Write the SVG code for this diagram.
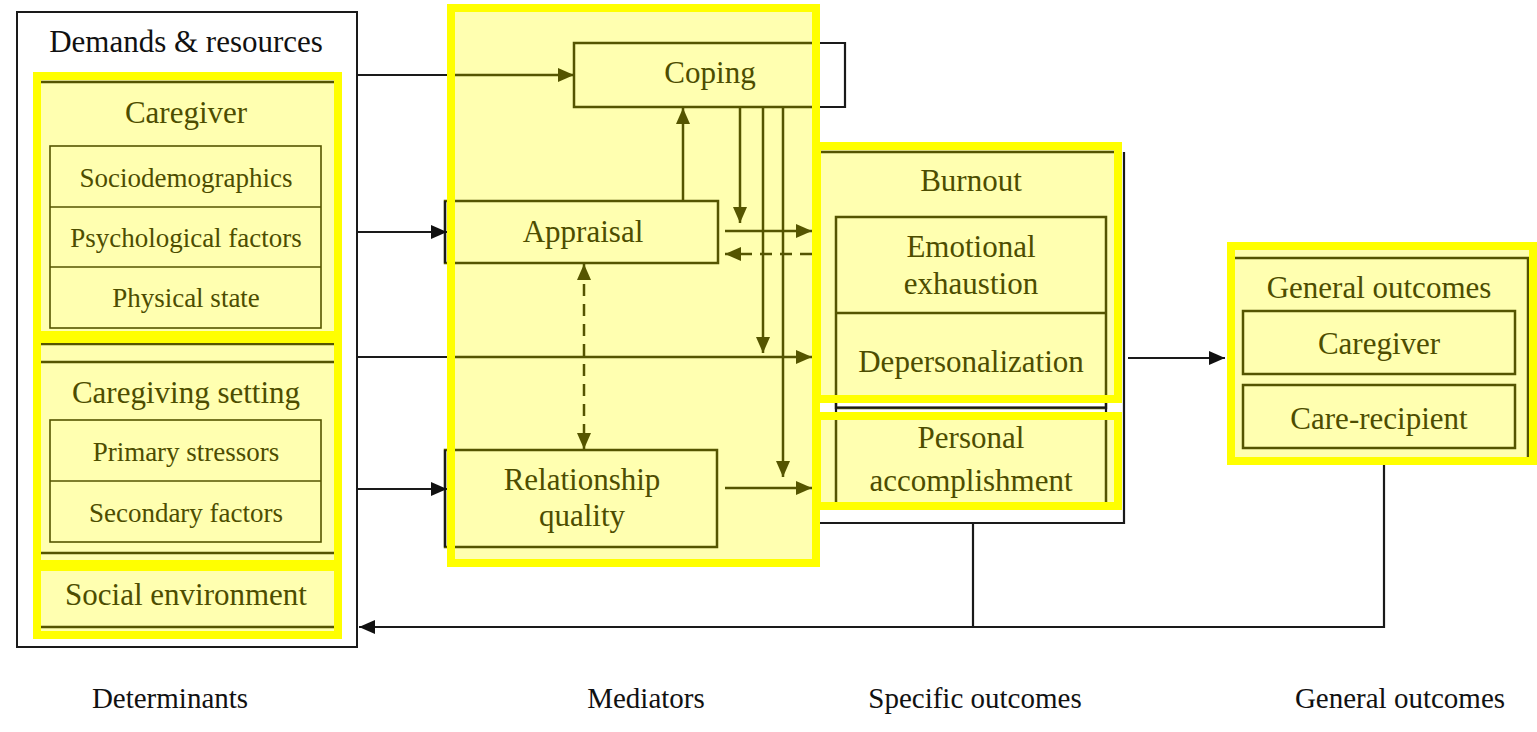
<svg xmlns="http://www.w3.org/2000/svg" width="1537" height="732" viewBox="0 0 1537 732">
<style>
text{font-family:"Liberation Serif","Times New Roman",serif;text-anchor:middle;fill:#4d4d00}
.t{font-size:31px}
.s{font-size:27px}
.blk{fill:#111}
.lab{font-size:29px}
.ol{stroke:#555500;fill:none;stroke-width:2.5}
.olt{stroke:#555500;fill:none;stroke-width:1.6}
.bk{stroke:#1a1a1a;fill:none;stroke-width:2.2}
.hl{fill:#ffffb0;stroke:none}
.hb{fill:none;stroke:#ffff00;stroke-width:8}
.dash{stroke-dasharray:12 8}
</style>
<defs>
<marker id="ao" markerUnits="userSpaceOnUse" markerWidth="18" markerHeight="16" refX="16" refY="7" orient="auto-start-reverse"><path d="M0,0 L16,7 L0,14 Z" fill="#555500"/></marker>
<marker id="ab" markerUnits="userSpaceOnUse" markerWidth="18" markerHeight="16" refX="16" refY="7" orient="auto"><path d="M0,0 L16,7 L0,14 Z" fill="#111"/></marker>
</defs>
<rect width="1537" height="732" fill="#fff"/>

<g id="determinants">
<rect x="17" y="12" width="340" height="635" fill="#fff" stroke="#1a1a1a" stroke-width="2"/>
<text class="t blk" x="186" y="52">Demands &amp; resources</text>
</g>

<g id="highlight-fills">
<rect class="hl" x="37" y="76" width="301" height="259"/>
<rect class="hl" x="37" y="339" width="301" height="225"/>
<rect class="hl" x="37" y="567" width="301" height="68"/>
<rect class="hl" x="451" y="8" width="365" height="555"/>
<rect class="hl" x="817" y="146" width="301" height="253"/>
<rect class="hl" x="817" y="416" width="301" height="90"/>
<rect class="hl" x="1231" y="246" width="302" height="215"/>
</g>

<g id="caregiver">
<line class="ol" x1="41" y1="82" x2="334" y2="82"/>
<line class="ol" x1="41" y1="344" x2="334" y2="344"/>
<text class="t" x="186" y="123">Caregiver</text>
<rect class="olt" x="50" y="146" width="271" height="182"/>
<line class="olt" x1="50" y1="207" x2="321" y2="207"/>
<line class="olt" x1="50" y1="267" x2="321" y2="267"/>
<text class="s" x="186" y="187">Sociodemographics</text>
<text class="s" x="186" y="247">Psychological factors</text>
<text class="s" x="186" y="307">Physical state</text>
</g>

<g id="caregiving-setting">
<line class="ol" x1="41" y1="362" x2="334" y2="362"/>
<line class="ol" x1="41" y1="553" x2="334" y2="553"/>
<text class="t" x="186" y="403">Caregiving setting</text>
<rect class="olt" x="50" y="420" width="271" height="122"/>
<line class="olt" x1="50" y1="481" x2="321" y2="481"/>
<text class="s" x="186" y="461">Primary stressors</text>
<text class="s" x="186" y="522">Secondary factors</text>
</g>

<g id="social-environment">
<line class="ol" x1="41" y1="627" x2="334" y2="627"/>
<text class="t" x="186" y="605">Social environment</text>
</g>

<g id="coping">
<path class="ol" d="M812,43 H574 V107 H812"/>
<path class="bk" d="M820,43 H845 V107 H820"/>
<text class="t" x="710" y="83">Coping</text>
</g>

<g id="appraisal">
<rect class="ol" x="445" y="201" width="273" height="62"/>
<line class="bk" x1="445" y1="201" x2="445" y2="263"/>
<text class="t" x="583" y="242">Appraisal</text>
</g>

<g id="relationship-quality">
<rect class="ol" x="445" y="450" width="272" height="97"/>
<line class="bk" x1="445" y1="450" x2="445" y2="547"/>
<text class="t" x="582" y="490">Relationship</text>
<text class="t" x="582" y="526">quality</text>
</g>

<g id="specific-outcomes-frame">
<path class="bk" d="M1124,152 V523 H820"/>
</g>

<g id="burnout">
<line class="ol" x1="821" y1="152" x2="1114" y2="152"/>
<text class="t" x="971" y="191">Burnout</text>
<rect class="ol" x="836" y="217" width="270" height="191"/>
<line class="ol" x1="836" y1="313" x2="1106" y2="313"/>
<path class="bk" d="M836,403 V412 M1106,403 V412 M836,407.5 H1106"/>
<text class="t" x="971" y="257">Emotional</text>
<text class="t" x="971" y="294">exhaustion</text>
<text class="t" x="971" y="372">Depersonalization</text>
</g>

<g id="personal-accomplishment">
<path class="ol" d="M836,412 V506 M1106,412 V506"/>
<text class="t" x="971" y="448">Personal</text>
<text class="t" x="971" y="491">accomplishment</text>
</g>

<g id="general-outcomes">
<path class="ol" d="M1235,258 H1528 V458"/>
<text class="t" x="1379" y="298">General outcomes</text>
<rect class="ol" x="1243" y="311" width="272" height="63"/>
<rect class="ol" x="1243" y="385" width="272" height="63"/>
<text class="t" x="1379" y="354">Caregiver</text>
<text class="t" x="1379" y="429">Care-recipient</text>
</g>

<g id="connectors">
<line class="bk" x1="357" y1="75" x2="452" y2="75"/>
<line class="ol" x1="451" y1="75" x2="574" y2="75" marker-end="url(#ao)"/>
<line class="bk" x1="357" y1="232" x2="447" y2="232" marker-end="url(#ab)"/>
<line class="bk" x1="357" y1="357" x2="452" y2="357"/>
<line class="ol" x1="451" y1="357" x2="812" y2="357" marker-end="url(#ao)"/>
<line class="bk" x1="357" y1="489" x2="447" y2="489" marker-end="url(#ab)"/>
<line class="ol" x1="683" y1="201" x2="683" y2="108" marker-end="url(#ao)"/>
<line class="ol" x1="740" y1="107" x2="740" y2="223" marker-end="url(#ao)"/>
<line class="ol" x1="763" y1="107" x2="763" y2="353" marker-end="url(#ao)"/>
<line class="ol" x1="783" y1="107" x2="783" y2="477" marker-end="url(#ao)"/>
<line class="ol" x1="725" y1="231" x2="812" y2="231" marker-end="url(#ao)"/>
<line class="ol dash" x1="812" y1="254" x2="725" y2="254" marker-end="url(#ao)"/>
<line class="ol dash" x1="584" y1="264" x2="584" y2="449" marker-start="url(#ao)" marker-end="url(#ao)"/>
<line class="ol" x1="725" y1="488" x2="812" y2="488" marker-end="url(#ao)"/>
<line class="bk" x1="1128" y1="358" x2="1225" y2="358" marker-end="url(#ab)"/>
<line class="bk" x1="973" y1="523" x2="973" y2="627"/>
<path class="bk" d="M1384,465 V627 H359" marker-end="url(#ab)"/>
</g>

<g id="highlight-borders">
<rect class="hb" x="37" y="76" width="301" height="259"/>
<rect class="hb" x="37" y="339" width="301" height="225"/>
<rect class="hb" x="37" y="567" width="301" height="68"/>
<rect class="hb" x="451" y="8" width="365" height="555"/>
<rect class="hb" x="817" y="146" width="301" height="253"/>
<rect class="hb" x="817" y="416" width="301" height="90"/>
<rect class="hb" x="1231" y="246" width="302" height="215"/>
</g>

<g id="column-labels">
<text class="lab blk" x="170" y="708">Determinants</text>
<text class="lab blk" x="646" y="708">Mediators</text>
<text class="lab blk" x="975" y="708">Specific outcomes</text>
<text class="lab blk" x="1400" y="708">General outcomes</text>
</g>
</svg>
